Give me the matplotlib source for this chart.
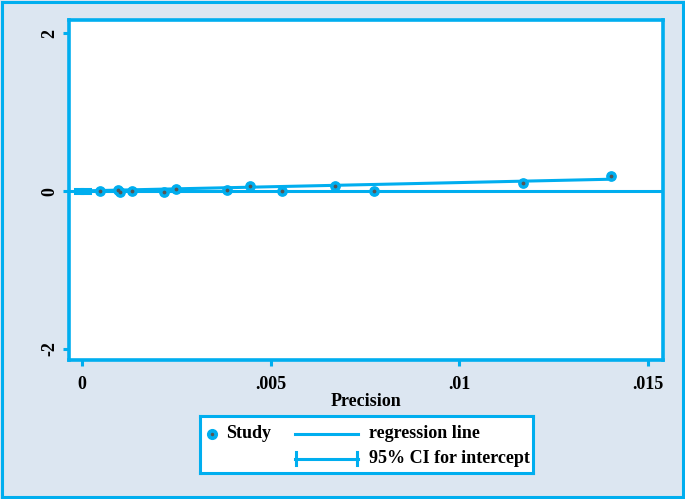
import matplotlib.pyplot as plt
from matplotlib.patches import Rectangle

plt.rcParams['font.family'] = ['Liberation Serif', 'DejaVu Serif']
plt.rcParams['font.weight'] = 'bold'

# study points: precision vs standardised effect
precision = [0.00048, 0.00096, 0.00100, 0.00132, 0.00216, 0.00249, 0.00385,
             0.00444, 0.00530, 0.00671, 0.00775, 0.01170, 0.01401]
std_effect = [0.00, 0.01, -0.005, 0.00, -0.01, 0.03, 0.01,
              0.06, 0.00, 0.07, 0.005, 0.10, 0.19]

# regression line end points
reg_x = [0.0, 0.0139]
reg_y = [0.003, 0.15]

# 95% CI for intercept
ci_lo, ci_hi = -0.027, 0.033

xticks = [0, 0.005, 0.01, 0.015]
xticklabels = ['0', '.005', '.01', '.015']
yticks = [-2, 0, 2]
yticklabels = ['-2', '0', '2']

blue = '#00AEEF'
bg = '#DCE6F1'
fs = 13

fig = plt.figure(figsize=(6.85, 4.99), dpi=100, facecolor=bg)
fig.patches.append(Rectangle((0.003, 0.004), 0.994, 0.992, transform=fig.transFigure,
                             fill=False, edgecolor=blue, linewidth=2.2))

ax = fig.add_axes([0.1007, 0.2786, 0.8672, 0.6814])
ax.set_facecolor('white')

ax.axhline(0, color=blue, linewidth=2.2, zorder=2)
ax.plot(reg_x, reg_y, color=blue, linewidth=2.2, zorder=2)
ax.plot([0, 0], [ci_lo, ci_hi], color=blue, linewidth=2.2, zorder=3)
ax.plot([-0.0002, 0.0002], [ci_lo, ci_lo], color=blue, linewidth=2.2, zorder=3)
ax.plot([-0.0002, 0.0002], [ci_hi, ci_hi], color=blue, linewidth=2.2, zorder=3)
ax.scatter(precision, std_effect, s=45, color=blue, zorder=4)
ax.scatter(precision, std_effect, s=3, color='#555555', zorder=5)

ax.set_xlim(-0.00035, 0.0154)
ax.set_ylim(-2.14, 2.17)
ax.set_xticks(xticks)
ax.set_xticklabels(xticklabels)
ax.set_yticks(yticks)
ax.set_yticklabels(yticklabels, rotation=90, va='center')
ax.tick_params(axis='both', colors=blue, width=2.2, length=4.5, labelsize=fs,
               labelcolor='black')
ax.tick_params(axis='x', pad=7)
ax.tick_params(axis='y', pad=3)
for s in ax.spines.values():
    s.set_color(blue)
    s.set_linewidth(2.6)
ax.set_xlabel('Precision', fontsize=fs, fontweight='bold', labelpad=0)

# legend box, drawn in pixel units
lg = fig.add_axes([200 / 685, 1 - 473 / 499, 333 / 685, 57 / 499])
lg.set_xlim(0, 333)
lg.set_ylim(57, 0)
lg.set_facecolor('white')
lg.set_xticks([])
lg.set_yticks([])
for s in lg.spines.values():
    s.set_color(blue)
    s.set_linewidth(2.2)
lg.plot([11.7], [17.5], marker='o', color=blue, markersize=7)
lg.plot([11.7], [17.5], marker='o', color='#555555', markersize=1.5)
lg.text(25.7, 17.5, 'Study', fontsize=fs, va='center', ha='left')
lg.plot([95, 158], [17.5, 17.5], color=blue, linewidth=2.2)
lg.text(169, 17.5, 'regression line', fontsize=fs, va='center', ha='left')
lg.plot([95, 158], [42.5, 42.5], color=blue, linewidth=2.2)
lg.plot([96, 96], [36, 49], color=blue, linewidth=2.2)
lg.plot([157, 157], [36, 49], color=blue, linewidth=2.2)
lg.text(169, 42.5, '95% CI for intercept', fontsize=fs, va='center', ha='left')

fig.savefig('out.png', dpi=100, facecolor=bg)
